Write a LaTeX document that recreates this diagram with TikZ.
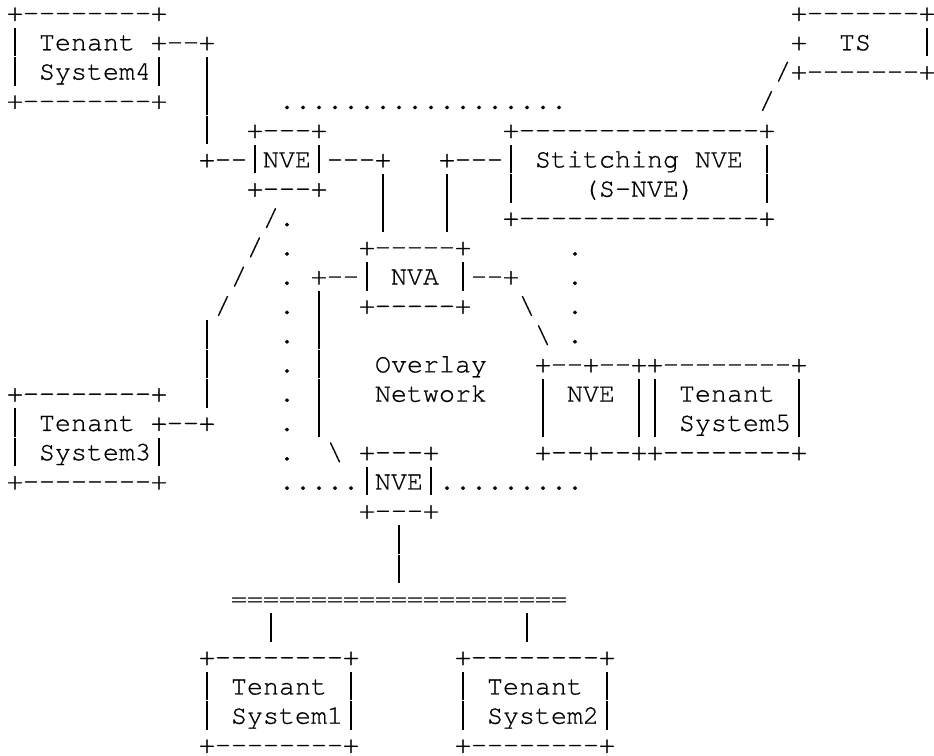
\documentclass[tikz,border=0pt]{standalone}
\usepackage{fontspec}
\setmonofont{texgyrecursor-regular.otf}[FakeBold=0.7]
% one character cell of the monospaced grid
\newcommand\gap[1]{\hspace*{#1\dimexpr16pt\relax}}
\newcommand\bs{\textbackslash}
% a full-height vertical bar that joins the rows above and below
\newcommand\vb{\makebox[16pt]{\rule[-6pt]{1.1pt}{28.6pt}}}
\begin{document}
\begin{tikzpicture}[x=1pt,y=1pt,
  ascii/.style={anchor=base west, inner sep=0pt, outer sep=0pt, text depth=0pt,
    font=\ttfamily\fontsize{26.667}{29.28}\selectfont\frenchspacing}]
\useasboundingbox (0,0) rectangle (934,755);
\fill[white] (0,0) rectangle (934,755);
\node[ascii] (r0)  at (7,{734-29.28*0})  {+--------+\gap{39}+-------+};
\node[ascii] (r1)  at (7,{734-29.28*1})  {\vb~Tenant~+--+\gap{36}+~~TS~~~\vb};
\node[ascii] (r2)  at (7,{734-29.28*2})  {\vb~System4\vb~~\vb\gap{35}/+-------+};
\node[ascii] (r3)  at (7,{734-29.28*3})  {+--------+~~\vb\gap{4}..................\gap{12}/};
\node[ascii] (r4)  at (7,{734-29.28*4})  {\gap{12}\vb\gap{2}+---+\gap{11}+---------------+};
\node[ascii] (r5)  at (7,{734-29.28*5})  {\gap{12}+--\vb NVE\vb---+\gap{3}+---\vb~Stitching~NVE~\vb};
\node[ascii] (r6)  at (7,{734-29.28*6})  {\gap{15}+---+\gap{3}\vb\gap{3}\vb\gap{3}\vb\gap{4}(S-NVE)\gap{4}\vb};
\node[ascii] (r7)  at (7,{734-29.28*7})  {\gap{16}/.\gap{5}\vb\gap{3}\vb\gap{3}+---------------+};
\node[ascii] (r8)  at (7,{734-29.28*8})  {\gap{15}/~.\gap{4}+-----+\gap{6}.};
\node[ascii] (r9)  at (7,{734-29.28*9})  {\gap{14}/\gap{2}.~+--\vb~NVA~\vb--+\gap{3}.};
\node[ascii] (r10) at (7,{734-29.28*10}) {\gap{13}/\gap{3}.~\vb\gap{2}+-----+\gap{3}\bs\gap{2}.};
\node[ascii] (r11) at (7,{734-29.28*11}) {\gap{12}\vb\gap{4}.~\vb\gap{13}\bs~.};
\node[ascii] (r12) at (7,{734-29.28*12}) {\gap{12}\vb\gap{4}.~\vb\gap{3}Overlay\gap{3}+--+--++--------+};
\node[ascii] (r13) at (7,{734-29.28*13}) {+--------+~~\vb\gap{4}.~\vb\gap{3}Network\gap{3}\vb~NVE~\vb\vb~Tenant~\vb};
\node[ascii] (r14) at (7,{734-29.28*14}) {\vb~Tenant~+--+\gap{4}.~\vb\gap{13}\vb\gap{5}\vb\vb~System5\vb};
\node[ascii] (r15) at (7,{734-29.28*15}) {\vb~System3\vb\gap{7}.\gap{2}\bs~+---+\gap{6}+--+--++--------+};
\node[ascii] (r16) at (7,{734-29.28*16}) {+--------+\gap{7}.....\vb NVE\vb.........};
\node[ascii] (r17) at (7,{734-29.28*17}) {\gap{22}+---+};
\node[ascii] (r18) at (7,{734-29.28*18}) {\gap{24}\vb};
\node[ascii] (r19) at (7,{734-29.28*19}) {\gap{24}\vb};
\node[ascii] (r20) at (7,{734-29.28*20}) {\gap{14}=====================};
\node[ascii] (r21) at (7,{734-29.28*21}) {\gap{16}\vb\gap{15}\vb};
\node[ascii] (r22) at (7,{734-29.28*22}) {\gap{12}+--------+\gap{6}+--------+};
\node[ascii] (r23) at (7,{734-29.28*23}) {\gap{12}\vb~Tenant~\vb\gap{6}\vb~Tenant~\vb};
\node[ascii] (r24) at (7,{734-29.28*24}) {\gap{12}\vb~System1\vb\gap{6}\vb~System2\vb};
\node[ascii] (r25) at (7,{734-29.28*25}) {\gap{12}+--------+\gap{6}+--------+};
\end{tikzpicture}
\end{document}
